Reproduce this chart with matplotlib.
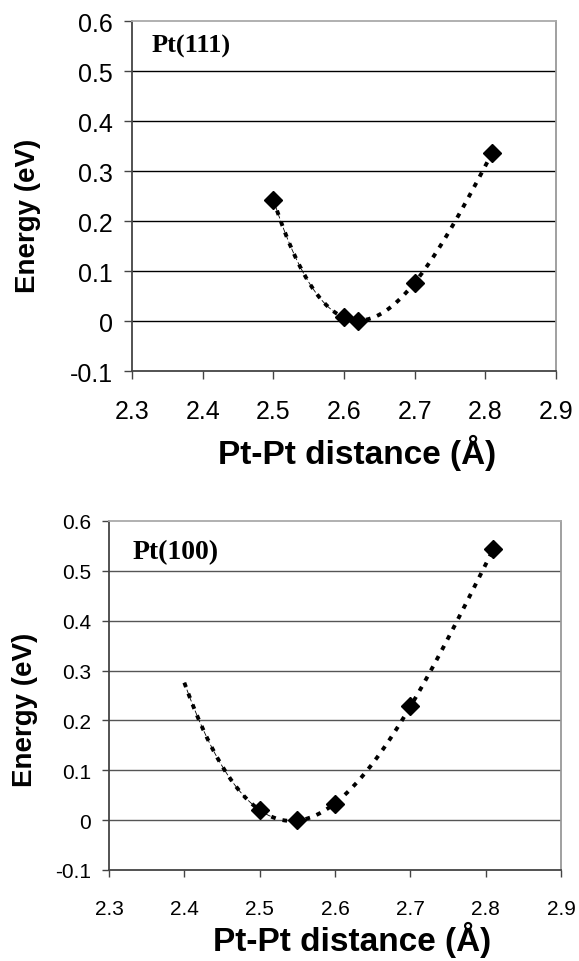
import numpy as np
import matplotlib
matplotlib.use("Agg")
import matplotlib.pyplot as plt

# Data
x111 = [2.50, 2.60, 2.62, 2.70, 2.81]
e111 = [0.243, 0.008, 0.000, 0.077, 0.337]
x100 = [2.50, 2.55, 2.60, 2.70, 2.81]
e100 = [0.020, 0.000, 0.033, 0.228, 0.543]
xticks = [2.3, 2.4, 2.5, 2.6, 2.7, 2.8, 2.9]
yticks = [-0.1, 0, 0.1, 0.2, 0.3, 0.4, 0.5, 0.6]
ytick_labels = ["-0.1", "0", "0.1", "0.2", "0.3", "0.4", "0.5", "0.6"]
titles = ["Pt(111)", "Pt(100)"]

plt.rcParams['font.family'] = ['Liberation Sans', 'DejaVu Sans']

W, H = 579, 962
fig = plt.figure(figsize=(W/100, H/100), dpi=100)

specs = [
    dict(l=132, r=556, t=22, b=372, x=x111, y=e111,
         tick_fs=18, xpad=14, ypad=8, tlen=6, grid='black', title=titles[0],
         tpos=(0.047, 0.963), fit_lo=2.5, thin_hi=2.6,
         xlab=(0.53, -0.232), ylab=(-0.245, 0.446), title_fs=19),
    dict(l=109, r=561, t=522, b=871, x=x100, y=e100,
         tick_fs=15, xpad=16, ypad=8, tlen=5, grid='#555555', title=titles[1],
         tpos=(0.053, 0.948), fit_lo=2.4, thin_hi=2.52,
         xlab=(0.538, -0.197), ylab=(-0.186, 0.461), title_fs=20),
]

for s in specs:
    rect = [s['l']/W, 1 - s['b']/H, (s['r']-s['l'])/W, (s['b']-s['t'])/H]
    ax = fig.add_axes(rect)
    ax.set_xlim(2.3, 2.9)
    ax.set_ylim(-0.1, 0.6)
    ax.set_xticks(xticks)
    ax.set_yticks(yticks)
    ax.set_xticklabels([f"{v:.1f}" for v in xticks], fontsize=s['tick_fs'])
    ax.set_yticklabels(ytick_labels, fontsize=s['tick_fs'])
    for v in yticks[1:-1]:
        ax.axhline(v, color=s['grid'], lw=1.0, zorder=1)
    ax.tick_params(axis='both', direction='out', length=s['tlen'], width=1, color='#444444')
    ax.tick_params(axis='x', pad=s['xpad'])
    ax.tick_params(axis='y', pad=s['ypad'])
    ax.spines['left'].set_color('#444444')
    ax.spines['bottom'].set_color('#444444')
    ax.spines['right'].set_color('#999999')
    ax.spines['top'].set_color('#aaaaaa')
    for sp in ax.spines.values():
        sp.set_linewidth(1.3)

    # polynomial trendline (as in spreadsheet)
    coef = np.polyfit(s['x'], s['y'], 3)
    xx = np.linspace(s['fit_lo'], max(s['x']), 200)
    yy = np.polyval(coef, xx)
    ax.plot(xx, yy, color='black', lw=2.8, linestyle=(0, (1.2, 1.8)), zorder=2)
    xt = np.linspace(s['fit_lo'], s['thin_hi'], 60)
    ax.plot(xt, np.polyval(coef, xt), color='black', lw=0.6, linestyle=(0, (6, 3)), zorder=2)

    ax.plot(s['x'], s['y'], linestyle='none', marker='D', ms=9.5, color='black', zorder=3)

    ax.text(s['tpos'][0], s['tpos'][1], s['title'], transform=ax.transAxes,
            fontsize=s['title_fs'], fontweight='bold', family='Liberation Serif',
            va='top', ha='left')
    ax.set_ylabel("Energy (eV)", fontsize=20, fontweight='bold')
    ax.set_xlabel("Pt-Pt distance (Å)", fontsize=24, fontweight='bold')
    ax.xaxis.set_label_coords(*s['xlab'])
    ax.yaxis.set_label_coords(*s['ylab'])
    ax.xaxis.label.set_va('center')
    ax.yaxis.label.set_va('center')

fig.savefig("out.png", dpi=100)
